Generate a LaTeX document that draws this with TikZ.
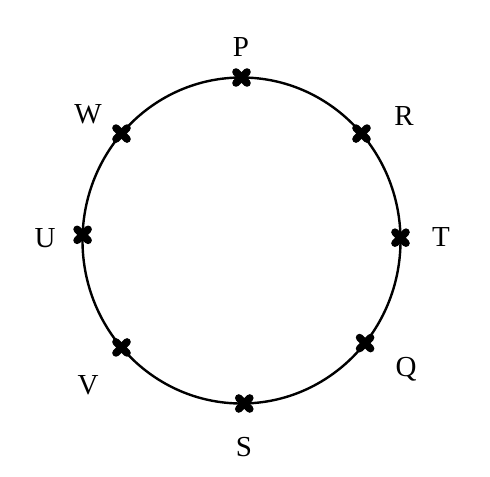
\documentclass[tikz,border=0pt]{standalone}
\usepackage{fontspec}
\setmainfont{Liberation Serif}

\begin{document}
\begin{tikzpicture}[x=0.5pt,y=-0.5pt,
	xmark/.style={line width=3.8pt, line cap=round},
	lbl/.style={font=\fontsize{14.5}{17}\selectfont, inner sep=0pt}]

\def\ox{241.5}
\def\oy{240.5}
\def\rx{159}
\def\ry{163}

\path [use as bounding box] (0,0) rectangle (490,476);

% RING
\draw [line width=1.2pt] (\ox,\oy) ellipse [x radius=\rx, y radius=\ry];

% POINTS
\foreach \name/\ang in {P/90, R/41, T/1, Q/-39, S/-89, V/-139, U/178, W/139} {
	\coordinate (\name) at ({\ox+\rx*cos(\ang)},{\oy-\ry*sin(\ang)});
	\draw [xmark] (\name) +(-5.5,-5.5) -- +(5.5,5.5);
	\draw [xmark] (\name) +(-5.5,5.5) -- +(5.5,-5.5);
}

% LABELS
\node [lbl] (lP) at (241,47) {P};
\node [lbl] (lR) at (404,116) {R};
\node [lbl] (lT) at (441,237) {T};
\node [lbl] (lQ) at (406,369) {Q};
\node [lbl] (lS) at (244,447) {S};
\node [lbl] (lV) at (88,385) {V};
\node [lbl] (lU) at (45,238) {U};
\node [lbl] (lW) at (88,114) {W};

\end{tikzpicture}
\end{document}
